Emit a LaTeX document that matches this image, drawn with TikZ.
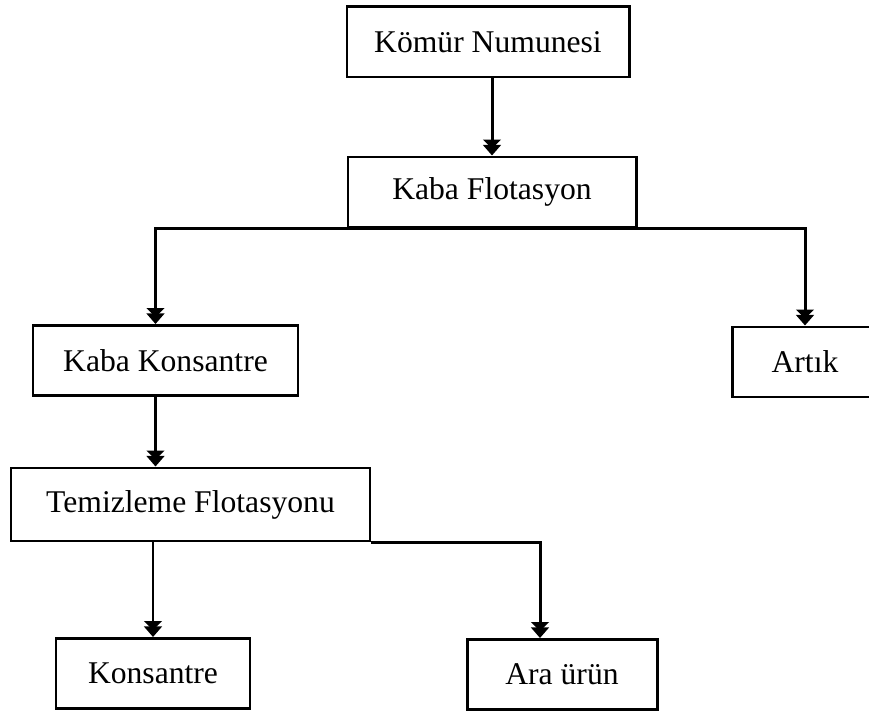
\documentclass[tikz,border=0pt]{standalone}
\usepackage{fontspec}
\setmainfont{Liberation Serif}
\usetikzlibrary{arrows.meta}

\begin{document}
\begin{tikzpicture}[>={Triangle[width=10pt,length=5pt,sep=-2pt]Triangle[width=10pt,length=6pt]},
    line width=1.7pt,
    box/.style={draw, minimum height=1.4cm, font=\fontsize{18}{22}\selectfont, inner sep=0pt}]

% page frame (keeps the margins of the original)
\clip (0,0) rectangle (17.38,-14.3);

% ============================
% Boxes
% ============================
\node[box, minimum width=5.64cm] (komur) at (9.76,-0.84)  {Kömür Numunesi};
\node[box, minimum width=5.76cm] (kabaf) at (9.84,-3.84)  {Kaba Flotasyon};
\node[box, minimum width=5.30cm] (kabak) at (3.31,-7.21)  {Kaba Konsantre};
\node[box, minimum width=2.90cm] (artik) at (16.10,-7.24) {Artık};
\node[box, minimum width=7.18cm, minimum height=1.46cm] (temiz) at (3.81,-10.09) {Temizleme Flotasyonu};
\node[box, minimum width=3.88cm] (kons)  at (3.06,-13.47) {Konsantre};
\node[box, minimum width=3.80cm] (araur) at (11.24,-13.49) {Ara ürün};

% ============================
% First stage
% ============================
\draw[->] (komur.south -| kabaf.north) -- (kabaf.north);
\draw[->] (kabaf.south) -| ([xshift=-0.2cm]kabak.north);
\draw[->] (kabaf.south) -| (artik.north);

% ============================
% Cleaning stage
% ============================
\draw[->] ([xshift=-0.2cm]kabak.south) -- ([xshift=-0.2cm]kabak.south |- temiz.north);
\draw[->] (kons.north |- temiz.south) -- (kons.north);
\draw[->] (temiz.south east) -| ([xshift=-0.44cm]araur.north);

\end{tikzpicture}
\end{document}
